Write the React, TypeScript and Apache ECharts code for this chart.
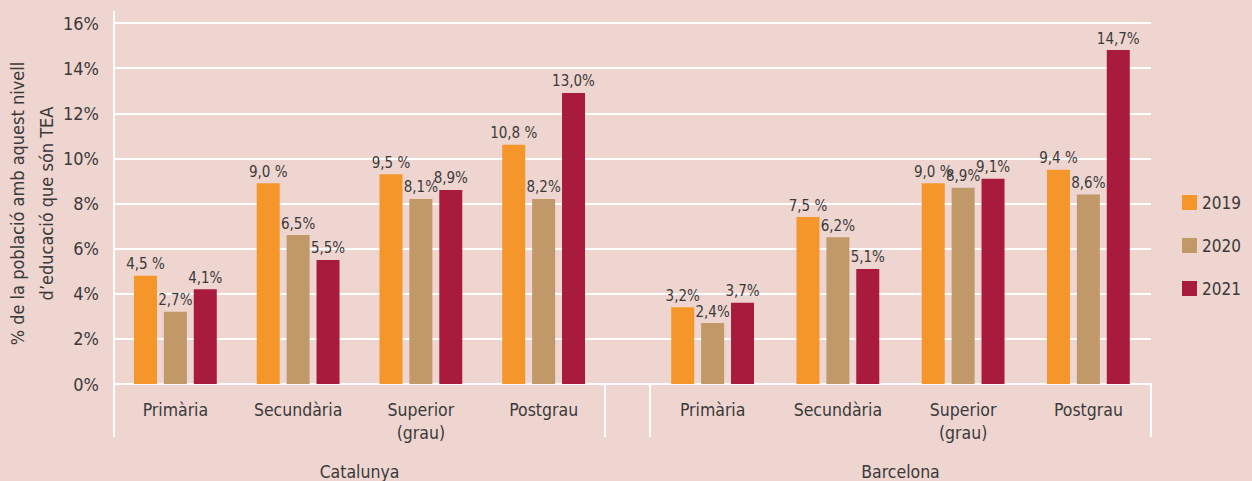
import React, { useEffect, useRef } from "react";
import * as echarts from "echarts";

// ---- data ----
const categories = ["Primària", "Secundària", "Superior\n(grau)", "Postgrau"];
const regions = ["Catalunya", "Barcelona"];
const years = ["2019", "2020", "2021"];

// bar heights (%) as drawn
const catalunya2019 = [4.8, 8.9, 9.3, 10.6];
const catalunya2020 = [3.2, 6.6, 8.2, 8.2];
const catalunya2021 = [4.2, 5.5, 8.6, 12.9];
const barcelona2019 = [3.4, 7.4, 8.9, 9.5];
const barcelona2020 = [2.7, 6.5, 8.7, 8.4];
const barcelona2021 = [3.6, 5.1, 9.1, 14.8];

// printed value labels
const catalunyaLabels2019 = ["4,5 %", "9,0 %", "9,5 %", "10,8 %"];
const catalunyaLabels2020 = ["2,7%", "6,5%", "8,1%", "8,2%"];
const catalunyaLabels2021 = ["4,1%", "5,5%", "8,9%", "13,0%"];
const barcelonaLabels2019 = ["3,2%", "7,5 %", "9,0 %", "9,4 %"];
const barcelonaLabels2020 = ["2,4%", "6,2%", "8,9%", "8,6%"];
const barcelonaLabels2021 = ["3,7%", "5,1%", "9,1%", "14,7%"];

const yTicks = { min: 0, max: 16, interval: 2 };
const yAxisTitle = "% de la població amb aquest nivell\nd’educació que són TEA";

// ---- styles / layout ----
const W = 1252;
const H = 481;
const FONT = "'Liberation Sans Narrow', 'DejaVu Sans Condensed', 'Roboto Condensed', Roboto, sans-serif";
const TEXT = "#3a3a3a";
const BG = "#efd5d0";
const COLORS = ["#f5962a", "#c19868", "#a91b3c"];
const AXIS_LEFT = 114;
const SPLIT_A = 605;
const SPLIT_B = 650;
const AXIS_RIGHT = 1151;
const TOP = 23;
const BASE = 384;
const AXIS_TOP = 11;
const TICK_BOTTOM = 437;

export default function App() {
  const ref = useRef<HTMLDivElement>(null);

  useEffect(() => {
    document.body.style.margin = "0";
    const chart = echarts.init(ref.current!, null, { renderer: "svg" });

    const valueSets = [
      [catalunya2019, catalunya2020, catalunya2021],
      [barcelona2019, barcelona2020, barcelona2021],
    ];
    const labelSets = [
      [catalunyaLabels2019, catalunyaLabels2020, catalunyaLabels2021],
      [barcelonaLabels2019, barcelonaLabels2020, barcelonaLabels2021],
    ];

    const series: any[] = [];
    regions.forEach((_, r) => {
      years.forEach((y, i) => {
        const labels = labelSets[r][i];
        series.push({
          type: "bar",
          name: y,
          xAxisIndex: r + 1,
          yAxisIndex: r + 1,
          data: valueSets[r][i],
          barWidth: 23,
          barGap: "30%",
          itemStyle: { color: COLORS[i] },
          label: {
            show: true,
            position: "top",
            distance: 4,
            formatter: (p: any) => labels[p.dataIndex],
            fontFamily: FONT,
            fontSize: 15,
            color: TEXT,
          },
        });
      });
    });

    const catAxis = (gridIndex: number, name: string) => ({
      gridIndex,
      type: "category",
      data: categories,
      axisLine: { show: false },
      axisTick: { show: false },
      axisLabel: {
        fontFamily: FONT,
        fontSize: 17.5,
        lineHeight: 23,
        color: TEXT,
        margin: 14,
        interval: 0,
      },
      name,
      nameLocation: "middle",
      nameGap: 79,
      nameMoveOverlap: false,
      nameTextStyle: { fontFamily: FONT, fontSize: 17.5, color: TEXT },
    });

    const line = (x1: number, y1: number, x2: number, y2: number) => ({
      type: "line",
      shape: { x1, y1, x2, y2 },
      style: { stroke: "#ffffff", lineWidth: 2 },
      z: 10,
    });

    const gridCommon = { top: TOP, bottom: H - BASE, outerBoundsMode: "none", containLabel: false };

    chart.setOption({
      animation: false,
      backgroundColor: BG,
      textStyle: { fontFamily: FONT },
      legend: {
        orient: "vertical",
        left: 1182,
        top: 194,
        padding: 0,
        itemWidth: 15,
        itemHeight: 15,
        itemGap: 26,
        data: years,
        textStyle: { fontFamily: FONT, fontSize: 17, color: TEXT },
        icon: "rect",
      },
      grid: [
        { ...gridCommon, left: AXIS_LEFT, right: W - AXIS_RIGHT },
        { ...gridCommon, left: AXIS_LEFT, width: SPLIT_A - AXIS_LEFT },
        { ...gridCommon, left: SPLIT_B, width: AXIS_RIGHT - SPLIT_B },
      ],
      xAxis: [
        {
          gridIndex: 0,
          type: "category",
          data: [""],
          axisLine: { show: true, lineStyle: { color: "#ffffff", width: 2 } },
          axisTick: { show: false },
          axisLabel: { show: false },
        },
        catAxis(1, regions[0]),
        catAxis(2, regions[1]),
      ],
      yAxis: [
        {
          gridIndex: 0,
          type: "value",
          min: yTicks.min,
          max: yTicks.max,
          interval: yTicks.interval,
          axisLine: { show: false },
          axisTick: { show: false },
          axisLabel: {
            formatter: "{value}%",
            fontFamily: FONT,
            fontSize: 18,
            color: TEXT,
            margin: 15,
          },
          splitLine: { lineStyle: { color: "#ffffff", width: 2 } },
          name: yAxisTitle,
          nameLocation: "middle",
          nameRotate: 90,
          nameGap: 53,
          nameMoveOverlap: false,
          nameTextStyle: { fontFamily: FONT, fontSize: 18, lineHeight: 29, color: TEXT },
        },
        { gridIndex: 1, type: "value", min: yTicks.min, max: yTicks.max, show: false },
        { gridIndex: 2, type: "value", min: yTicks.min, max: yTicks.max, show: false },
      ],
      series,
      graphic: [
        line(AXIS_LEFT, AXIS_TOP, AXIS_LEFT, TICK_BOTTOM),
        line(SPLIT_A, BASE, SPLIT_A, TICK_BOTTOM),
        line(SPLIT_B, BASE, SPLIT_B, TICK_BOTTOM),
        line(AXIS_RIGHT, BASE, AXIS_RIGHT, TICK_BOTTOM),
      ],
    });

    return () => chart.dispose();
  }, []);

  return <div ref={ref} style={{ width: W, height: H }} />;
}
